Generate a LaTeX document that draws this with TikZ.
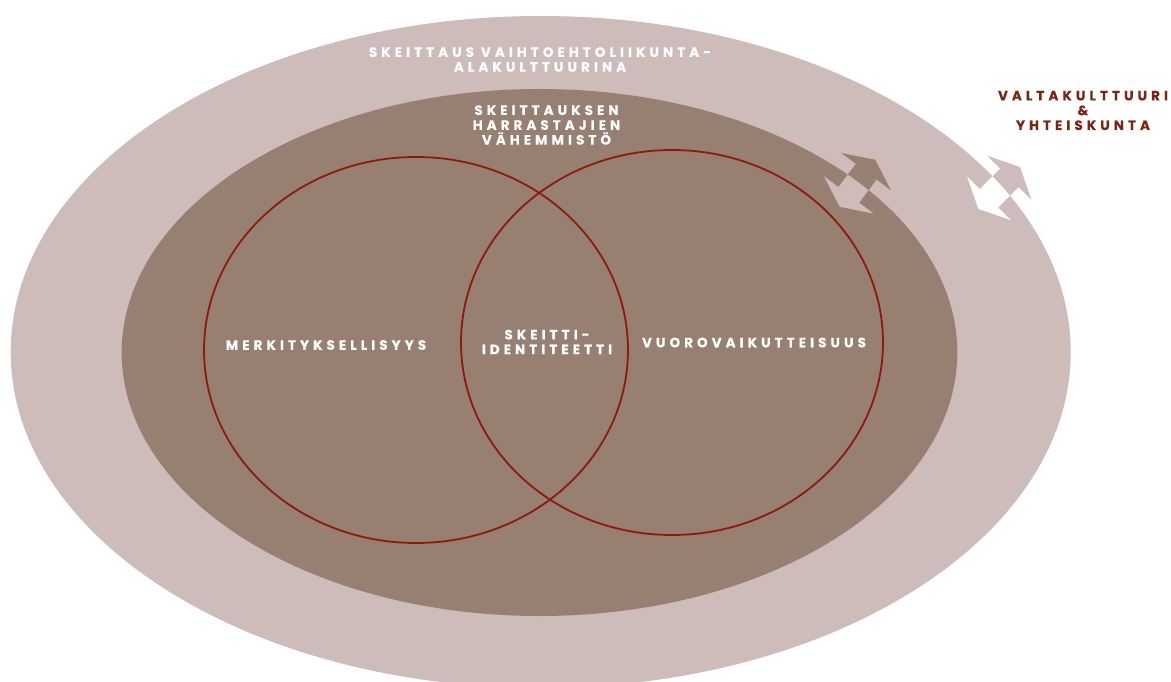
\documentclass[tikz,border=0pt]{standalone}
\usepackage{fontspec}
\newfontfamily\labfont{Poppins}[LetterSpace=30, FakeBold=0.4]
\definecolor{outercol}{HTML}{CEBCBA}
\definecolor{innercol}{HTML}{977F72}
\definecolor{ringcol}{HTML}{8C1B0D}
\definecolor{titlecol}{HTML}{7A2616}
\newcommand\arrowshape{(29.5,0) -- (14.5,31) -- (14.5,13) -- (-14.5,13) -- (-14.5,31) -- (-29.5,0) -- (-14.5,-31) -- (-14.5,-13) -- (14.5,-13) -- (14.5,-31) -- cycle}
\begin{document}
\begin{tikzpicture}[x=1pt,y=-1pt,
  lab/.style={font=\labfont\bfseries\fontsize{13.5}{14.8}\selectfont, text=white, align=center, inner sep=0pt},
  ring/.style={draw=ringcol, line width=1.8pt}]
\useasboundingbox (0,0) rectangle (1171,682);
% outer and inner ellipses
\fill[outercol] (540.7,352) ellipse [x radius=530, y radius=336];
\fill[innercol] (539.5,352.5) ellipse [x radius=417.8, y radius=263.5];
% two overlapping circles
\draw[ring] (416,350) ellipse [x radius=212, y radius=193];
\draw[ring] (672,342.5) ellipse [x radius=211, y radius=192.5];
% arrow 1 (across inner ellipse boundary)
\begin{scope}[shift={(857.5,183.3)}, rotate=53]
  \fill[innercol] \arrowshape;
\end{scope}
\begin{scope}
  \clip (539.5,352.5) ellipse [x radius=417.8, y radius=263.5];
  \begin{scope}[shift={(857.5,183.3)}, rotate=53]
    \fill[outercol] \arrowshape;
  \end{scope}
\end{scope}
% arrow 2 (across outer ellipse boundary)
\begin{scope}[shift={(999.2,188)}, rotate=45]
  \fill[outercol] \arrowshape;
\end{scope}
\begin{scope}
  \clip (540.7,352) ellipse [x radius=530, y radius=336];
  \begin{scope}[shift={(999.2,188)}, rotate=45]
    \fill[white] \arrowshape;
  \end{scope}
\end{scope}
% labels
\node[lab] (t1) at (540,59.5) {SKEITTAUS VAIHTOEHTOLIIKUNTA-\\ALAKULTTUURINA};
\node[lab] (t2) at (546.5,125) {SKEITTAUKSEN\\HARRASTAJIEN\\VÄHEMMISTÖ};
\node[lab] (t3) at (326,345) {MERKITYKSELLISYYS};
\node[lab] (t4) at (547,342) {SKEITTI-\\IDENTITEETTI};
\node[lab] (t5) at (754,342.5) {VUOROVAIKUTTEISUUS};
\node[lab, text=titlecol] (t6) at (1083,110.5) {VALTAKULTTUURI\\\&\\YHTEISKUNTA};
\end{tikzpicture}
\end{document}
